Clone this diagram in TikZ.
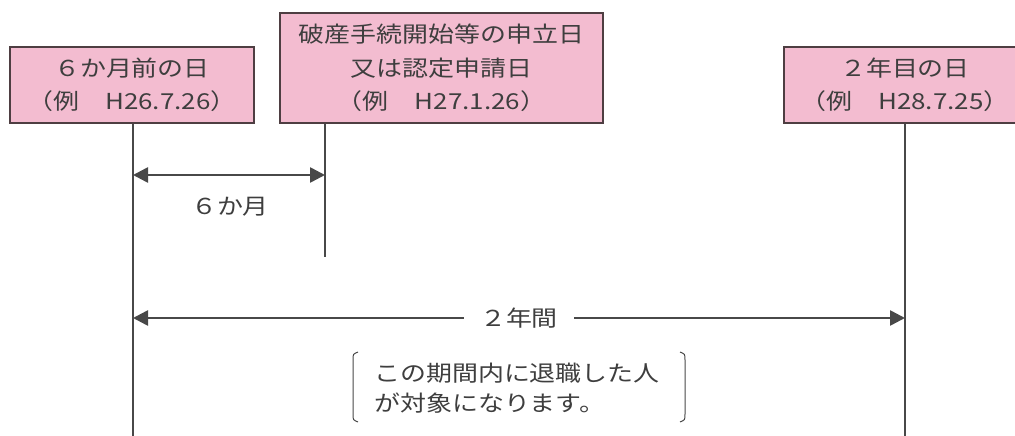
\documentclass[tikz,border=0pt]{standalone}
\usepackage{fontspec}
\setmainfont{Noto Sans CJK JP}
\newfontfamily\jpf[FakeStretch=1.18]{Noto Sans CJK JP}
\usetikzlibrary{arrows.meta}
\definecolor{boxpink}{RGB}{243,188,208}
\definecolor{boxline}{RGB}{78,62,66}
\definecolor{txt}{RGB}{62,62,62}
\definecolor{ln}{RGB}{72,72,72}
\tikzset{
  datebox/.style={draw=boxline, line width=2pt, fill=boxpink, text=txt, align=center, inner sep=0pt},
  vline/.style={draw=ln, line width=1.6pt},
  dimarrow/.style={draw=ln, line width=2.6pt, {Triangle[length=15pt,width=15pt]}-{Triangle[length=15pt,width=15pt]}},
  lbl/.style={text=txt, font=\jpf\fontsize{22}{26}\selectfont, inner sep=0pt},
  brk/.style={draw=ln, line width=1pt}
}
\begin{document}
\begin{tikzpicture}[x=1pt,y=-1pt]
\useasboundingbox (0,0) rectangle (1015,436);
\node[datebox, minimum width=244pt, minimum height=76pt, font=\jpf\fontsize{22}{33}\selectfont] (b1) at (132,85) {６か月前の日\\（例　H26.7.26）};
\node[datebox, minimum width=323pt, minimum height=110pt, font=\jpf\fontsize{22}{33.5}\selectfont] (b2) at (441.5,68) {破産手続開始等の申立日\\又は認定申請日\\（例　H27.1.26）};
\node[datebox, minimum width=242pt, minimum height=76pt, font=\jpf\fontsize{22}{33}\selectfont] (b3) at (905,85) {２年目の日\\（例　H28.7.25）};
\coordinate (v1) at (133,436);
\coordinate (v2) at (325,257);
\coordinate (v3) at (905,436);
\draw[vline] (b1.south -| v1) -- (v1);
\draw[vline] (b2.south -| v2) -- (v2);
\draw[vline] (b3.south -| v3) -- (v3);
\coordinate (a1l) at (133,175);
\coordinate (a1r) at (325,175);
\draw[dimarrow] (a1l) -- (a1r);
\node[lbl] (m6) at (230,207) {６か月};
\coordinate (a2l) at (133,318);
\coordinate (a2r) at (905,318);
\draw[dimarrow] (a2l) -- (a2r);
\node[lbl, fill=white, inner xsep=16pt, inner ysep=3pt] (y2) at (519,318) {２年間};
\node[text=txt, font=\jpf\fontsize{22}{30}\selectfont, align=left, inner sep=0pt, anchor=west] (note) at (374,388) {この期間内に退職した人\\が対象になります。};
\coordinate (bl) at (353,387);
\coordinate (br) at (685,387);
\draw[brk] ([shift={(5,-35)}]bl) .. controls ([shift={(0,-33)}]bl) .. ([shift={(0,-27)}]bl) -- ([shift={(0,27)}]bl) .. controls ([shift={(0,33)}]bl) .. ([shift={(5,35)}]bl);
\draw[brk] ([shift={(-5,-35)}]br) .. controls ([shift={(0,-33)}]br) .. ([shift={(0,-27)}]br) -- ([shift={(0,27)}]br) .. controls ([shift={(0,33)}]br) .. ([shift={(-5,35)}]br);
\end{tikzpicture}
\end{document}
